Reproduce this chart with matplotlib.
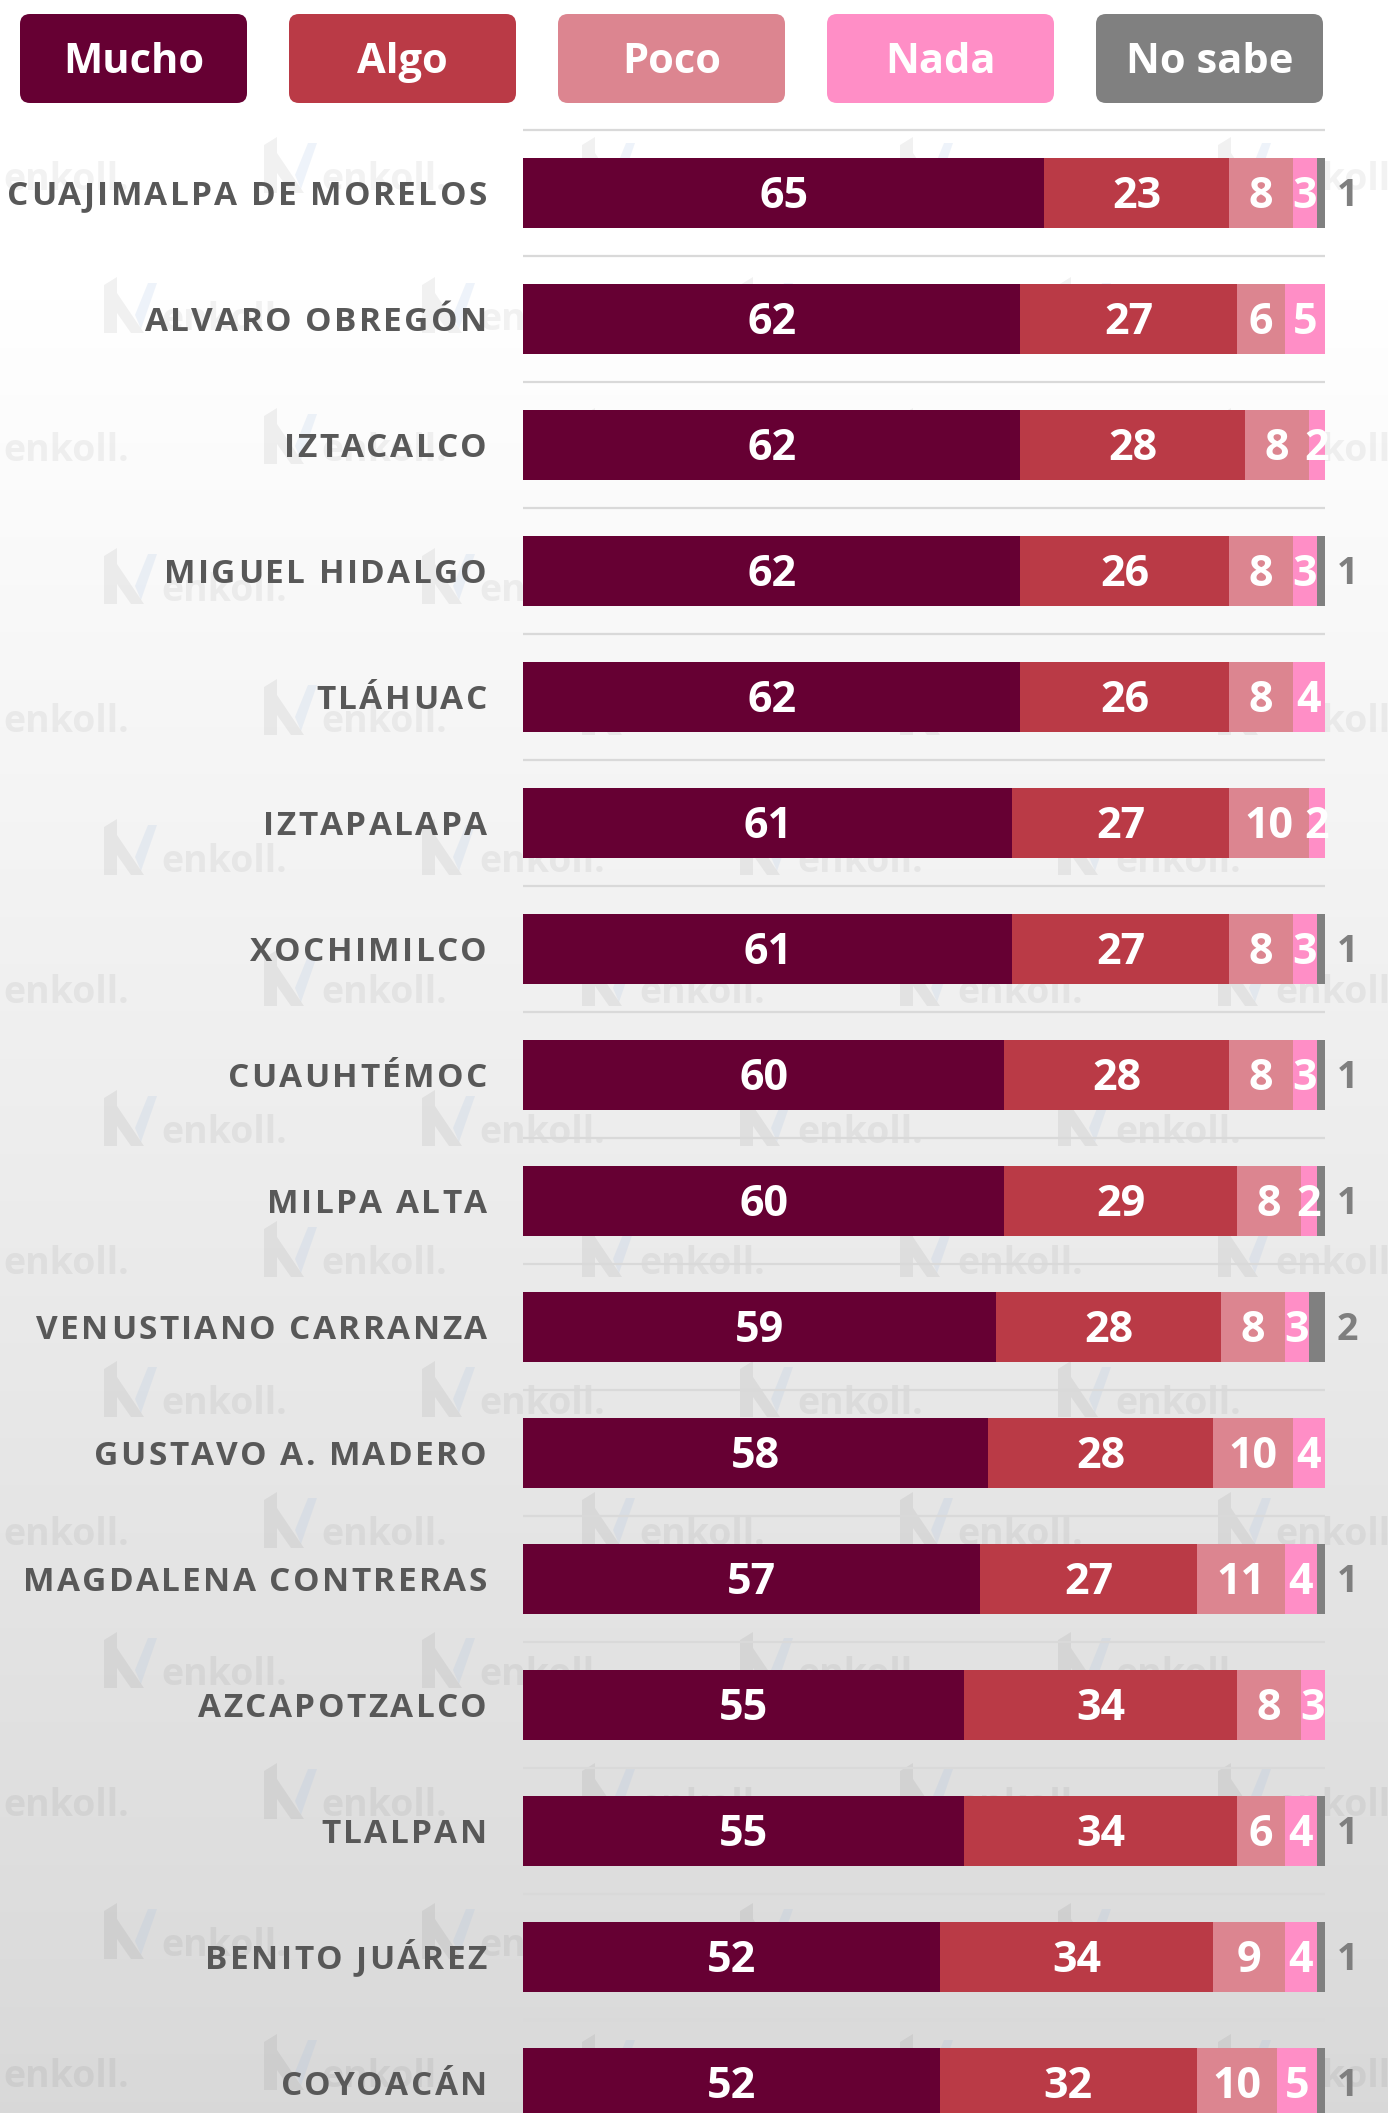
import numpy as np
import matplotlib
matplotlib.use("Agg")
import matplotlib.pyplot as plt
from matplotlib.patches import FancyBboxPatch, Polygon
from matplotlib import font_manager, ft2font

# ---------------- data ----------------
categories = ["CUAJIMALPA DE MORELOS", "ALVARO OBREGÓN", "IZTACALCO", "MIGUEL HIDALGO",
              "TLÁHUAC", "IZTAPALAPA", "XOCHIMILCO", "CUAUHTÉMOC", "MILPA ALTA",
              "VENUSTIANO CARRANZA", "GUSTAVO A. MADERO", "MAGDALENA CONTRERAS",
              "AZCAPOTZALCO", "TLALPAN", "BENITO JUÁREZ", "COYOACÁN"]
mucho = [65, 62, 62, 62, 62, 61, 61, 60, 60, 59, 58, 57, 55, 55, 52, 52]
algo = [23, 27, 28, 26, 26, 27, 27, 28, 29, 28, 28, 27, 34, 34, 34, 32]
poco = [8, 6, 8, 8, 8, 10, 8, 8, 8, 8, 10, 11, 8, 6, 9, 10]
nada = [3, 5, 2, 3, 4, 2, 3, 3, 2, 3, 4, 4, 3, 4, 4, 5]
no_sabe = [1, 0, 0, 1, 0, 0, 1, 1, 1, 2, 0, 1, 0, 1, 1, 1]
series_names = ["Mucho", "Algo", "Poco", "Nada", "No sabe"]
series_colors = ["#660033", "#BA3A46", "#DC8590", "#FF8EC6", "#808080"]

# ---------------- layout ----------------
W, H = 1388, 2113
DPI = 100
FONT = "Open Sans"
CAP = 0.714  # cap height / em

fig = plt.figure(figsize=(W / DPI, H / DPI), dpi=DPI)

# background / overlay axes in pixel coordinates
bg = fig.add_axes([0, 0, 1, 1], zorder=0)
bg.set_xlim(0, W)
bg.set_ylim(H, 0)
bg.axis("off")
ys = np.arange(H)
v = np.where(ys < 300, 1.0, 1.0 - (ys - 300) / (H - 300) * 0.15)
grad = np.repeat(np.repeat(v[:, None, None], 3, axis=2), 2, axis=1)
bg.imshow(grad, extent=[0, W, H, 0], aspect="auto", zorder=0, interpolation="bilinear")


# watermark (text + simple logo shape)
def watermark(xc, yc):
    bg.text(xc, yc, "enkoll.", fontsize=27, fontfamily=FONT, fontweight="bold",
            color="black", alpha=0.05, ha="center", va="center", zorder=1)
    lx, ly = xc - 120, yc - 43
    gray = [[(0, 8), (13, 0), (13, 56), (0, 56)],
            [(13, 16), (40, 56), (27, 56), (13, 36)]]
    for pts in gray:
        bg.add_patch(Polygon([(lx + a, ly + b) for a, b in pts], closed=True,
                             facecolor="black", alpha=0.055, edgecolor="none", zorder=1))
    blue = [(31, 38), (44, 6), (53, 6), (37, 52)]
    bg.add_patch(Polygon([(lx + a, ly + b) for a, b in blue], closed=True,
                         facecolor="#9ab8e0", alpha=0.16, edgecolor="none", zorder=1))


for k in range(8):
    for j in range(5):
        watermark(66 + 318 * j, 180 + 271 * k)
for k in range(7):
    for j in range(4):
        watermark(224 + 318 * j, 320 + 271 * k)

# bar axes
row0, step = 193.0, 126.0
x0px, x1px = 523.0, 1325.0
ax = fig.add_axes([x0px / W, 0, (x1px - x0px) / W, 1], zorder=2)
ax.set_facecolor("none")
ax.set_xlim(0, 100)
ax.set_ylim((H - row0) / step, -row0 / step)
ax.axis("off")

ypos = np.arange(len(categories))
for g in np.arange(-0.5, len(categories) - 1, 1.0):
    ax.plot([0, 100], [g, g], color="#d9d9d9", lw=1.6, zorder=1, solid_capstyle="butt")

data = [mucho, algo, poco, nada, no_sabe]
left = np.zeros(len(categories))
bar_h = 70.0 / step
val_fs = 31
val_off = (CAP * val_fs * DPI / 72 / 2) / step
for si, (vals, col) in enumerate(zip(data, series_colors)):
    vals = np.array(vals, dtype=float)
    ax.barh(ypos, vals, left=left, height=bar_h, color=col, edgecolor="none", zorder=2)
    if si < 4:
        for i, (l, w) in enumerate(zip(left, vals)):
            if w > 0:
                ax.text(l + w / 2, i + val_off, f"{int(w)}", ha="center", va="baseline",
                        color="white", fontsize=val_fs, fontfamily=FONT,
                        fontweight="bold", zorder=3, clip_on=False)
    else:
        ns_fs = 27
        ns_off = (CAP * ns_fs * DPI / 72 / 2) / step
        for i, w in enumerate(vals):
            if w > 0:
                ax.text(101.5, i + ns_off, f"{int(w)}", ha="left", va="baseline",
                        color="#7f7f7f", fontsize=ns_fs, fontfamily=FONT,
                        fontweight="bold", zorder=3, clip_on=False)
    left = left + vals

# letter-spaced category labels: glyphs set one by one with tracking
lab_fs = 24
ftf = ft2font.FT2Font(font_manager.findfont(
    font_manager.FontProperties(family=FONT, weight="bold")))
ftf.set_size(lab_fs, DPI)


def advance(c):
    return ftf.load_char(ord(c)).linearHoriAdvance / 65536.0


ref_label, ref_width = categories[0], 480.0
natural = sum(advance(c) for c in ref_label)
tracking = max(0.0, (ref_width - natural) / (len(ref_label) - 1))
lab_off = CAP * lab_fs * DPI / 72 / 2


def tracked_label(xr, yc, s):
    advs = [advance(c) for c in s]
    total = sum(advs) + tracking * (len(s) - 1)
    pen = xr - total
    for c, a in zip(s, advs):
        if c != " ":
            bg.text(pen, yc + lab_off, c, ha="left", va="baseline", fontsize=lab_fs,
                    fontfamily=FONT, fontweight="bold", color="#585858", zorder=3)
        pen += a + tracking


for i, name in enumerate(categories):
    yc = H - ax.transData.transform((0, i))[1]
    tracked_label(487, yc, name)

# legend boxes
leg_fs = 30
for k, (name, col) in enumerate(zip(series_names, series_colors)):
    bx = 20 + 269 * k
    box = FancyBboxPatch((bx, 14), 227, 89, boxstyle="round,pad=0,rounding_size=10",
                         facecolor=col, edgecolor="none", zorder=3)
    bg.add_patch(box)
    bg.text(bx + 113.5, 58.5 + CAP * leg_fs * DPI / 72 / 2, name, ha="center", va="baseline",
            fontsize=leg_fs, fontfamily=FONT, fontweight="bold", color="white", zorder=4)

fig.savefig("out.png", dpi=DPI)
